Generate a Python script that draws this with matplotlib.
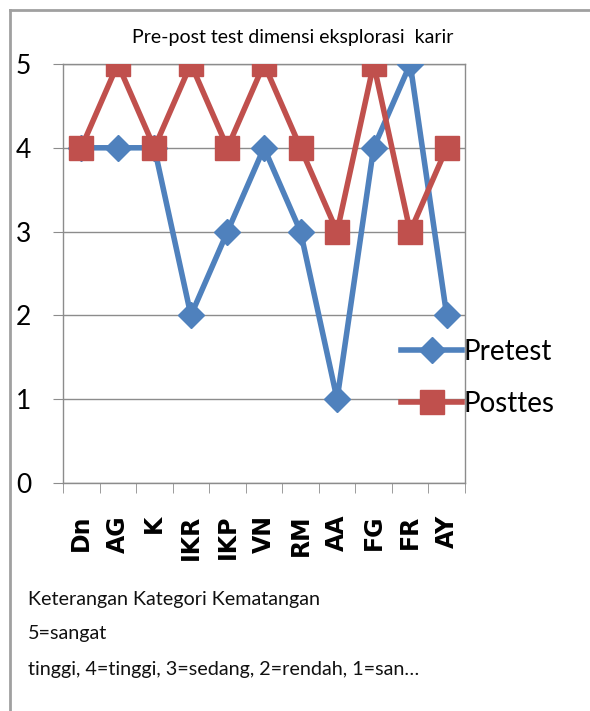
import matplotlib
matplotlib.use("Agg")
import matplotlib.pyplot as plt
from matplotlib.lines import Line2D

names = ["Dn", "AG", "K", "IKR", "IKP", "VN", "RM", "AA", "FG", "FR", "AY"]
pretest = [4, 4, 4, 2, 3, 4, 3, 1, 4, 5, 2]
posttes = [4, 5, 4, 5, 4, 5, 4, 3, 5, 3, 4]
yticks = [0, 1, 2, 3, 4, 5]

body = ["Lato", "DejaVu Sans"]
blue = "#4F81BD"
red = "#C0504D"
grey = "#8c8c8c"

fig = plt.figure(figsize=(5.9, 7.11), dpi=100)
ax = fig.add_axes([63/590, 1-483/711, 402/590, 419/711])

x = list(range(len(names)))
ax.plot(x, pretest, color=blue, lw=4, marker="D", markersize=13, label="Pretest", zorder=3)
ax.plot(x, posttes, color=red, lw=4, marker="s", markersize=17, label="Posttes", zorder=4)

ax.set_xlim(-0.5, len(names) - 0.5)
ax.set_ylim(0, 5)
ax.set_yticks(yticks)
ax.set_yticklabels([str(v) for v in yticks], fontsize=19, family=body)
ax.set_xticks(x)
ax.set_xticklabels(names, rotation=90, fontsize=17, family=["DejaVu Sans"],
                   fontweight="bold")
ax.set_xticks([i - 0.5 for i in range(len(names) + 1)], minor=True)
ax.tick_params(axis="x", which="major", length=0, pad=23)
ax.tick_params(axis="x", which="minor", length=7, color=grey, direction="out")
ax.tick_params(axis="y", length=7, color=grey, pad=16)
ax.yaxis.grid(True, color=grey, lw=1)
ax.set_axisbelow(True)
for s in ax.spines.values():
    s.set_color(grey)
    s.set_linewidth(1)

fig.text(293/590, 1-37/711, "Pre-post test dimensi eksplorasi  karir",
         ha="center", va="center", fontsize=14, family=body)

fig.legend(loc="center left", bbox_to_anchor=(401/590, 1-378/711), frameon=False,
           prop={"family": body, "size": 20}, handlelength=2.2,
           labelspacing=0.95, handletextpad=0.05, borderaxespad=0, borderpad=0)

notes = ["Keterangan Kategori Kematangan", "5=sangat",
         "tinggi, 4=tinggi, 3=sedang, 2=rendah, 1=san\u2026"]
for i, t in enumerate(notes):
    fig.text(28/590, 1-(599 + 35*i)/711, t, ha="left", va="center",
             fontsize=14.2, family=body, color="#111111")

fig.add_artist(Line2D([10/590, 1], [1-10/711, 1-10/711], color="#a0a0a0", lw=2))
fig.add_artist(Line2D([10/590, 10/590], [0, 1-10/711], color="#a0a0a0", lw=2))

fig.savefig("out.png", dpi=100)
